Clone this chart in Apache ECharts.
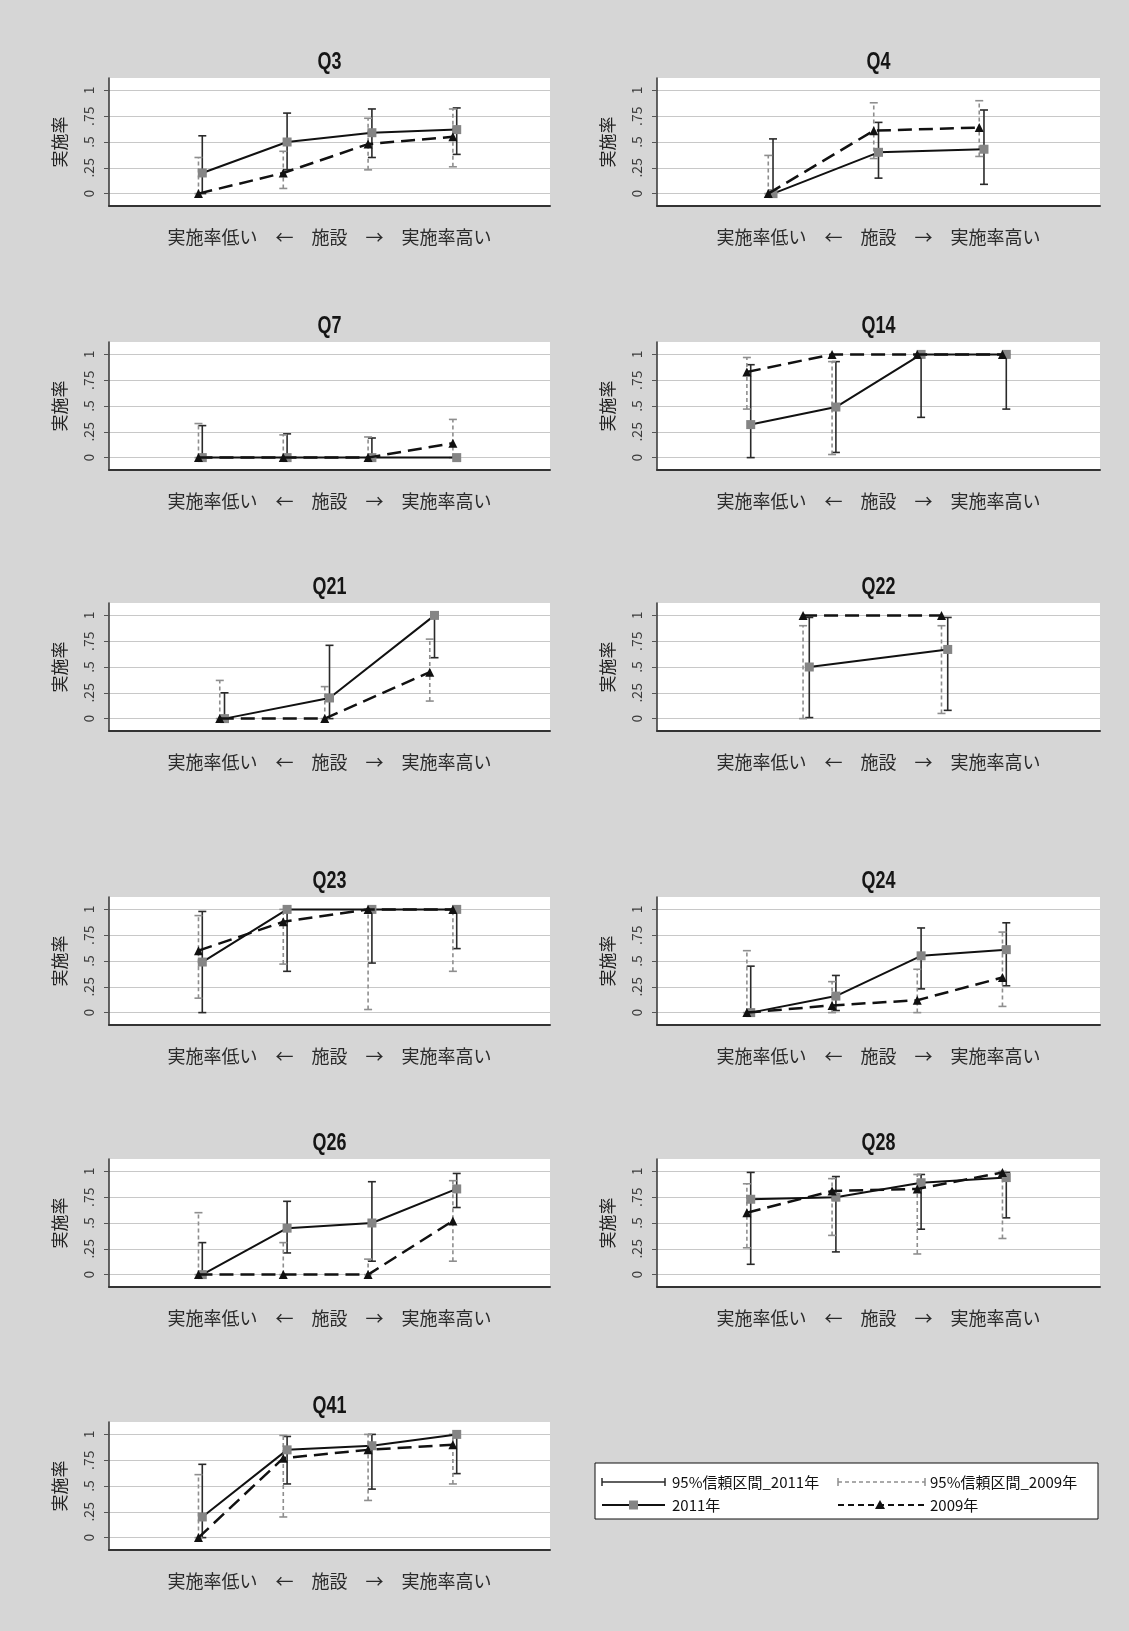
<!DOCTYPE html>
<html>
<head>
<meta charset="utf-8">
<title>実施率</title>
<script src="https://cdn.jsdelivr.net/npm/echarts@6/dist/echarts.min.js"></script>
<style>
html, body { margin: 0; padding: 0; background: #d6d6d6; }
#main { width: 1129px; height: 1631px; }
</style>
</head>
<body>
<div id="main"></div>
<script>
// 設問
const panels = ['Q3', 'Q4', 'Q7', 'Q14', 'Q21', 'Q22', 'Q23', 'Q24', 'Q26', 'Q28', 'Q41'];
const yTicks = [0, 0.25, 0.5, 0.75, 1];
const yTickLabels = ['0', '.25', '.5', '.75', '1'];
const xAxisName = '実施率低い　←　施設　→　実施率高い';
const yAxisName = '実施率';
const legendNames = ['95%信頼区間_2011年', '95%信頼区間_2009年', '2011年', '2009年'];

// 2011年 実施率と95%信頼区間
const rate2011 = [
  [0.20, 0.50, 0.59, 0.62],
  [0.00, 0.40, 0.43],
  [0.00, 0.00, 0.00, 0.00],
  [0.32, 0.49, 1.00, 1.00],
  [0.00, 0.20, 1.00],
  [0.50, 0.67],
  [0.49, 1.00, 1.00, 1.00],
  [0.00, 0.16, 0.55, 0.61],
  [0.00, 0.45, 0.50, 0.83],
  [0.73, 0.75, 0.89, 0.94],
  [0.20, 0.85, 0.89, 1.00]
];
const lo2011 = [
  [0.00, 0.23, 0.35, 0.38],
  [0.00, 0.15, 0.09],
  [0.00, 0.00, 0.00, null],
  [0.00, 0.05, 0.39, 0.47],
  [0.00, 0.00, 0.59],
  [0.01, 0.08],
  [0.00, 0.40, 0.48, 0.62],
  [0.00, 0.02, 0.23, 0.26],
  [0.00, 0.21, 0.13, 0.65],
  [0.10, 0.22, 0.44, 0.55],
  [0.00, 0.52, 0.47, 0.62]
];
const hi2011 = [
  [0.56, 0.78, 0.82, 0.83],
  [0.53, 0.69, 0.81],
  [0.31, 0.23, 0.19, null],
  [0.90, 0.93, 1.00, 1.00],
  [0.25, 0.71, 1.00],
  [0.98, 0.98],
  [0.98, 1.00, 1.00, 1.00],
  [0.45, 0.36, 0.82, 0.87],
  [0.31, 0.71, 0.90, 0.98],
  [0.99, 0.95, 0.97, 0.99],
  [0.71, 0.98, 1.00, 1.00]
];

// 2009年 実施率と95%信頼区間
const rate2009 = [
  [0.00, 0.20, 0.48, 0.55],
  [0.00, 0.61, 0.64],
  [0.00, 0.00, 0.00, 0.14],
  [0.83, 1.00, 1.00, 1.00],
  [0.00, 0.00, 0.45],
  [1.00, 1.00],
  [0.60, 0.88, 1.00, 1.00],
  [0.00, 0.07, 0.12, 0.34],
  [0.00, 0.00, 0.00, 0.52],
  [0.60, 0.81, 0.83, 0.99],
  [0.00, 0.77, 0.85, 0.90]
];
const lo2009 = [
  [0.00, 0.05, 0.23, 0.26],
  [0.00, 0.34, 0.36],
  [0.00, 0.00, 0.00, 0.00],
  [0.47, 0.03, null, null],
  [0.00, 0.00, 0.17],
  [0.00, 0.05],
  [0.14, 0.47, 0.03, 0.40],
  [0.00, 0.00, 0.00, 0.06],
  [0.00, 0.00, 0.00, 0.13],
  [0.26, 0.38, 0.20, 0.35],
  [0.00, 0.20, 0.36, 0.52]
];
const hi2009 = [
  [0.35, 0.41, 0.73, 0.82],
  [0.37, 0.88, 0.90],
  [0.33, 0.22, 0.20, 0.37],
  [0.97, 0.93, null, null],
  [0.37, 0.31, 0.77],
  [0.90, 0.90],
  [0.94, 1.00, 1.00, 1.00],
  [0.60, 0.30, 0.42, 0.78],
  [0.60, 0.31, 0.15, 0.91],
  [0.88, 0.93, 0.97, 1.00],
  [0.61, 0.99, 1.00, 1.00]
];

// 2009年の点は少し左にずれている
const shift2009 = -0.045;

// レイアウト
const rowTops = [78, 342, 603, 897, 1159, 1422];
const colLefts = [109, 657];
const plotW = [441, 443];
const plotH = 128;

const jpFont = '"Noto Sans CJK JP", sans-serif';

function ciItem (color, dash, width) {
  return function (params, api) {
    const x = api.value(0);
    const pLo = api.coord([x, api.value(1)]);
    const pHi = api.coord([x, api.value(2)]);
    const cap = 4;
    return {
      type: 'group',
      children: [
        { type: 'line', shape: { x1: pLo[0], y1: pLo[1], x2: pHi[0], y2: pHi[1] },
          style: { stroke: color, lineWidth: width, lineDash: dash } },
        { type: 'line', shape: { x1: pLo[0] - cap, y1: pLo[1], x2: pLo[0] + cap, y2: pLo[1] },
          style: { stroke: color, lineWidth: width } },
        { type: 'line', shape: { x1: pHi[0] - cap, y1: pHi[1], x2: pHi[0] + cap, y2: pHi[1] },
          style: { stroke: color, lineWidth: width } }
      ]
    };
  };
}

const grid = [], xAxis = [], yAxis = [], series = [], graphic = [];

panels.forEach((name, i) => {
  const row = Math.floor(i / 2), col = i % 2;
  const n = rate2011[i].length;
  const xs = rate2011[i].map((v, k) => k + 1);

  grid.push({
    left: colLefts[col], top: rowTops[row], width: plotW[col], height: plotH,
    show: true, backgroundColor: '#ffffff', borderWidth: 0
  });

  xAxis.push({
    gridIndex: i, type: 'value', min: -0.1, max: n + 1.1,
    axisLine: { onZero: false, lineStyle: { color: '#333', width: 2 } },
    axisTick: { show: false }, axisLabel: { show: false }, splitLine: { show: false },
    name: xAxisName, nameLocation: 'middle', nameGap: 22,
    nameTextStyle: { fontFamily: jpFont, fontSize: 18, color: '#2a2a2a' }
  });

  yAxis.push({
    gridIndex: i, type: 'value', min: -0.12, max: 1.12,
    axisLine: { show: true, onZero: false, lineStyle: { color: '#333', width: 1.5 } },
    axisTick: { show: true, length: 5, customValues: yTicks, lineStyle: { color: '#555' } },
    axisLabel: {
      customValues: yTicks, rotate: 90, margin: 13,
      fontFamily: jpFont, fontSize: 14, color: '#3c3c3c',
      formatter: v => {
        const k = yTicks.findIndex(t => Math.abs(t - v) < 1e-9);
        return k >= 0 ? yTickLabels[k] : '';
      }
    },
    splitLine: { show: true, lineStyle: { color: '#c8c8c8', width: 1 } },
    name: yAxisName, nameLocation: 'middle', nameGap: 41,
    nameTextStyle: { fontFamily: jpFont, fontSize: 17, color: '#222' }
  });

  const ci11 = [], ci09 = [];
  xs.forEach((x, k) => {
    if (lo2011[i][k] != null) ci11.push([x, lo2011[i][k], hi2011[i][k]]);
    if (lo2009[i][k] != null) ci09.push([x + shift2009, lo2009[i][k], hi2009[i][k]]);
  });

  series.push({
    name: legendNames[0], type: 'custom', xAxisIndex: i, yAxisIndex: i,
    renderItem: ciItem('#2a2a2a', null, 1.6), data: ci11,
    encode: { x: 0, y: [1, 2] }, z: 2
  });
  series.push({
    name: legendNames[1], type: 'custom', xAxisIndex: i, yAxisIndex: i,
    renderItem: ciItem('#8e8e8e', [4, 3], 1.6), data: ci09,
    encode: { x: 0, y: [1, 2] }, z: 2
  });
  series.push({
    name: legendNames[2], type: 'line', xAxisIndex: i, yAxisIndex: i,
    data: xs.map((x, k) => [x, rate2011[i][k]]),
    symbol: 'rect', symbolSize: 9, showAllSymbol: true,
    itemStyle: { color: '#858585' },
    lineStyle: { color: '#111', width: 2 }, z: 3
  });
  series.push({
    name: legendNames[3], type: 'line', xAxisIndex: i, yAxisIndex: i,
    data: xs.map((x, k) => [x + shift2009, rate2009[i][k]]),
    symbol: 'triangle', symbolSize: 9, showAllSymbol: true,
    itemStyle: { color: '#111' },
    lineStyle: { color: '#111', width: 2.5, type: [14, 7] }, z: 4
  });

  // タイトル（細めの字形に合わせて横方向を縮める）
  graphic.push({
    type: 'text', x: colLefts[col] + plotW[col] / 2, y: rowTops[row] - 15,
    scaleX: 0.78,
    style: {
      text: name, fill: '#151515',
      font: 'bold 23px "Liberation Sans", sans-serif',
      align: 'center', verticalAlign: 'middle',
      textAlign: 'center', textVerticalAlign: 'middle'
    }
  });
});

// 凡例
const lgX = 595, lgY = 1463, lgW = 503, lgH = 56;
const r1 = 1482, r2 = 1505;
function lgText (text, x, y) {
  return {
    type: 'text', x: x, y: y,
    style: {
      text: text, fill: '#111', font: '15px ' + jpFont,
      align: 'left', verticalAlign: 'middle', textAlign: 'left', textVerticalAlign: 'middle'
    }
  };
}
function lgLine (x1, x2, y, color, width, dash) {
  return { type: 'line', shape: { x1: x1, y1: y, x2: x2, y2: y }, style: { stroke: color, lineWidth: width, lineDash: dash } };
}
function lgCap (x, y, color) {
  return { type: 'line', shape: { x1: x, y1: y - 4, x2: x, y2: y + 4 }, style: { stroke: color, lineWidth: 1.5 } };
}
graphic.push(
  { type: 'rect', shape: { x: lgX, y: lgY, width: lgW, height: lgH }, style: { fill: '#fff', stroke: '#111', lineWidth: 1 } },
  lgLine(602, 665, r1, '#2a2a2a', 1.5, null), lgCap(602, r1, '#2a2a2a'), lgCap(665, r1, '#2a2a2a'),
  lgText(legendNames[0], 672, r1),
  lgLine(838, 925, r1, '#8e8e8e', 1.5, [4, 3]), lgCap(838, r1, '#8e8e8e'), lgCap(925, r1, '#8e8e8e'),
  lgText(legendNames[1], 930, r1),
  lgLine(602, 665, r2, '#111', 2, null),
  { type: 'rect', shape: { x: 629, y: r2 - 4.5, width: 9, height: 9 }, style: { fill: '#858585' } },
  lgText(legendNames[2], 672, r2),
  lgLine(838, 925, r2, '#111', 2, [6, 4]),
  { type: 'polygon', shape: { points: [[880, r2 - 5], [875, r2 + 4], [885, r2 + 4]] }, style: { fill: '#111' } },
  lgText(legendNames[3], 930, r2)
);

const chart = echarts.init(document.getElementById('main'), null, { renderer: 'canvas' });
chart.setOption({
  animation: false,
  backgroundColor: '#d6d6d6',
  grid: grid,
  xAxis: xAxis,
  yAxis: yAxis,
  series: series,
  graphic: graphic
});
</script>
</body>
</html>
